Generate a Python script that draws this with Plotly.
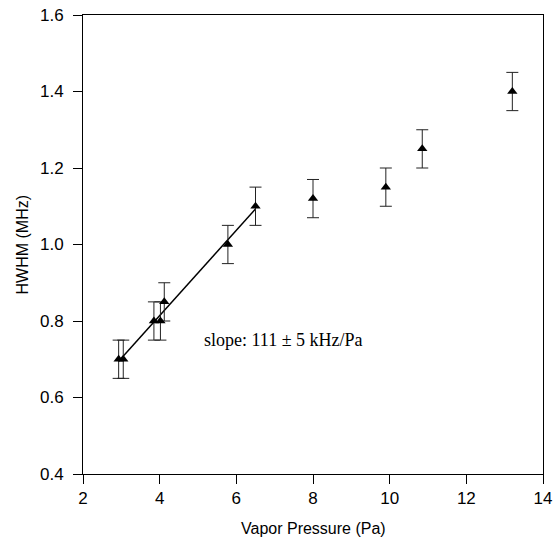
import numpy as np
import plotly.graph_objects as go

# Data
pressure = [2.93, 3.05, 3.85, 4.02, 4.12, 5.78, 6.50, 8.00, 9.90, 10.85, 13.20]
hwhm = [0.70, 0.70, 0.80, 0.80, 0.85, 1.00, 1.10, 1.12, 1.15, 1.25, 1.40]
hwhm_err = [0.05] * len(pressure)
n_fit = 7  # first seven points used in the linear fit
slope_text = "slope: 111 ± 5 kHz/Pa"
x_title = "Vapor Pressure (Pa)"
y_title = "HWHM (MHz)"
x_ticks = [2, 4, 6, 8, 10, 12, 14]
y_ticks = [0.4, 0.6, 0.8, 1.0, 1.2, 1.4, 1.6]

fx = np.array(pressure[:n_fit])
fy = np.array(hwhm[:n_fit])
m, b = np.polyfit(fx, fy, 1)
line_x = [fx.min(), fx.max()]
line_y = [m * v + b for v in line_x]

fig = go.Figure()
fig.add_trace(go.Scatter(
    x=line_x, y=line_y, mode="lines",
    line=dict(color="black", width=1.5), showlegend=False, hoverinfo="skip"))
fig.add_trace(go.Scatter(
    x=pressure, y=hwhm, mode="markers",
    marker=dict(symbol="triangle-up", size=9, color="black"),
    error_y=dict(type="data", array=hwhm_err, visible=True, color="#222222",
                 thickness=1, width=6),
    showlegend=False))

fig.add_annotation(x=7.24, y=0.75, text=slope_text, showarrow=False,
                   font=dict(family="Liberation Serif", size=18, color="black"))
fig.add_annotation(x=0.5, y=0, xref="paper", yref="paper", text=x_title,
                   showarrow=False, yanchor="middle", yshift=-54,
                   font=dict(family="Liberation Sans", size=16, color="black"))
fig.add_annotation(x=0, y=0.5, xref="paper", yref="paper", text=y_title,
                   showarrow=False, xanchor="center", xshift=-61, textangle=-90,
                   font=dict(family="Liberation Sans", size=16, color="black"))

axis_common = dict(showline=True, linecolor="black", linewidth=1, mirror=True,
                   ticks="outside", ticklen=9, tickcolor="black", tickwidth=1,
                   showgrid=False, zeroline=False, automargin=False,
                   ticklabeloverflow="allow",
                   tickfont=dict(family="Liberation Sans", size=17, color="black"))

fig.update_xaxes(range=[2, 14], tickvals=x_ticks, **axis_common)
fig.update_yaxes(range=[0.4, 1.6], tickvals=y_ticks, tickformat=".1f",
                 ticklabelstandoff=6, **axis_common)

fig.update_layout(width=554, height=542,
                  margin=dict(l=83, r=11, t=15, b=68),
                  plot_bgcolor="white", paper_bgcolor="white")

fig.write_html(
    "out.html",
    config={"displayModeBar": False},
    post_script=("document.documentElement.style.margin='0';"
                 "document.body.style.margin='0';"
                 "document.documentElement.style.overflow='hidden';"
                 "document.body.style.overflow='hidden';"))
